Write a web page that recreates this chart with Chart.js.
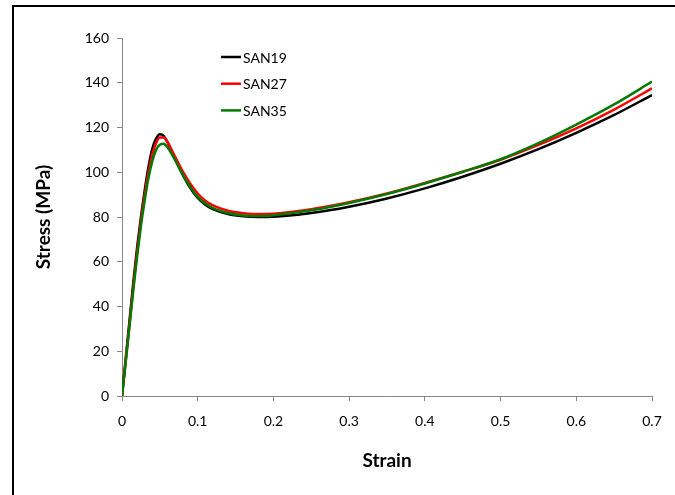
<!DOCTYPE html>
<html>
<head>
<meta charset="utf-8">
<script src="https://cdn.jsdelivr.net/npm/chart.js@4/dist/chart.umd.min.js"></script>
<style>
  html, body { margin: 0; padding: 0; background: #fff; overflow: hidden; }
  #wrap { width: 675px; height: 495px; }
</style>
</head>
<body>
<div id="wrap"><canvas id="chart" width="675" height="495"></canvas></div>
<script>
// Datos
const strain = [0, 0.005, 0.01, 0.015, 0.02, 0.025, 0.03, 0.035, 0.04, 0.045, 0.05, 0.055, 0.06,
  0.07, 0.08, 0.09, 0.1, 0.11, 0.12, 0.14, 0.16, 0.18, 0.2, 0.25, 0.3, 0.35, 0.4, 0.45, 0.5,
  0.55, 0.6, 0.65, 0.7];

const san19 = [0, 17, 34, 51, 66.5, 80, 92, 102.5, 110.5, 115, 117, 116.3, 113.5,
  106, 99, 93, 88.5, 85.5, 83.5, 81.3, 80.3, 80, 80.1, 81.8, 84.6, 88.3, 92.8, 98, 103.8,
  110.3, 117.6, 125.6, 134.5];

const san27 = [0, 16, 32.5, 49, 64.5, 78, 90, 100, 108, 113, 115.5, 115.5, 113.5,
  107, 100.5, 95, 90.5, 87.3, 85.2, 82.8, 81.7, 81.3, 81.5, 83.5, 86.6, 90.5, 95.2, 100.2, 105.6,
  112.2, 119.6, 128, 137.5];

const san35 = [0, 15.5, 31.5, 47.5, 62.5, 76, 87.5, 97.5, 105, 110, 112.3, 112.7, 111.2,
  105.5, 99, 93.5, 89, 86, 84, 81.8, 80.7, 80.4, 80.8, 83, 86.3, 90.3, 95, 100.2, 105.8,
  113, 121.3, 130.3, 140.5];

const seriesNames = ['SAN19', 'SAN27', 'SAN35'];
const seriesColors = ['#000000', '#ff0000', '#007a00'];
const seriesValues = [san19, san27, san35];

const toPoints = (ys) => strain.map((x, i) => ({ x: x, y: ys[i] }));

const FONT = 'Lato, "Open Sans", sans-serif';

// marco negro (solo izquierda y arriba, como en la imagen recortada)
const framePlugin = {
  id: 'frame',
  beforeDraw(chart) {
    const ctx = chart.ctx;
    ctx.save();
    ctx.fillStyle = '#fff';
    ctx.fillRect(0, 0, chart.width, chart.height);
    ctx.strokeStyle = '#000';
    ctx.lineWidth = 2;
    ctx.beginPath();
    ctx.moveTo(13, chart.height);
    ctx.lineTo(13, 6);
    ctx.lineTo(chart.width, 6);
    ctx.stroke();
    ctx.restore();
  }
};

// leyenda dentro del área del gráfico
const legendPlugin = {
  id: 'insideLegend',
  afterDraw(chart) {
    const ctx = chart.ctx;
    ctx.save();
    ctx.font = '14px ' + FONT;
    ctx.textBaseline = 'middle';
    ctx.fillStyle = '#000';
    seriesNames.forEach((name, i) => {
      const y = 57 + i * 26.7;
      ctx.strokeStyle = seriesColors[i];
      ctx.lineWidth = 2.5;
      ctx.beginPath();
      ctx.moveTo(221, y);
      ctx.lineTo(241, y);
      ctx.stroke();
      ctx.fillText(name, 243, y + 1);
    });
    ctx.restore();
  }
};

const datasets = seriesNames.map((name, i) => ({
  label: name,
  data: toPoints(seriesValues[i]),
  borderColor: seriesColors[i],
  borderWidth: 2.5,
  pointRadius: 0,
  cubicInterpolationMode: 'monotone',
  fill: false,
  order: seriesNames.length - i,
}));

new Chart(document.getElementById('chart').getContext('2d'), {
  type: 'line',
  data: { datasets: datasets },
  options: {
    responsive: false,
    animation: false,
    layout: { padding: { left: 0, top: 38, right: 23, bottom: 0 } },
    plugins: {
      legend: { display: false },
      tooltip: { enabled: false },
    },
    scales: {
      x: {
        type: 'linear',
        min: 0,
        max: 0.7,
        afterFit: (scale) => { scale.height = 99; },
        ticks: {
          stepSize: 0.1,
          color: '#000',
          font: { family: FONT, size: 14 },
          padding: 12,
        },
        grid: {
          drawOnChartArea: false,
          drawTicks: true,
          tickLength: 5,
          tickColor: '#888888',
        },
        border: { color: '#888888', width: 1 },
        title: {
          display: true,
          text: 'Strain',
          color: '#000',
          font: { family: FONT, size: 19, weight: 'bold' },
          padding: { top: 0, bottom: 23 },
        },
      },
      y: {
        min: 0,
        max: 160,
        afterFit: (scale) => { scale.width = 122; },
        ticks: {
          stepSize: 20,
          color: '#000',
          font: { family: FONT, size: 14 },
          padding: 8,
        },
        grid: {
          drawOnChartArea: false,
          drawTicks: true,
          tickLength: 5,
          tickColor: '#888888',
        },
        border: { color: '#888888', width: 1 },
        title: {
          display: true,
          text: 'Stress (MPa)',
          color: '#000',
          font: { family: FONT, size: 19, weight: 'bold' },
          padding: { top: 32, bottom: 0 },
        },
      },
    },
  },
  plugins: [framePlugin, legendPlugin],
});
</script>
</body>
</html>
